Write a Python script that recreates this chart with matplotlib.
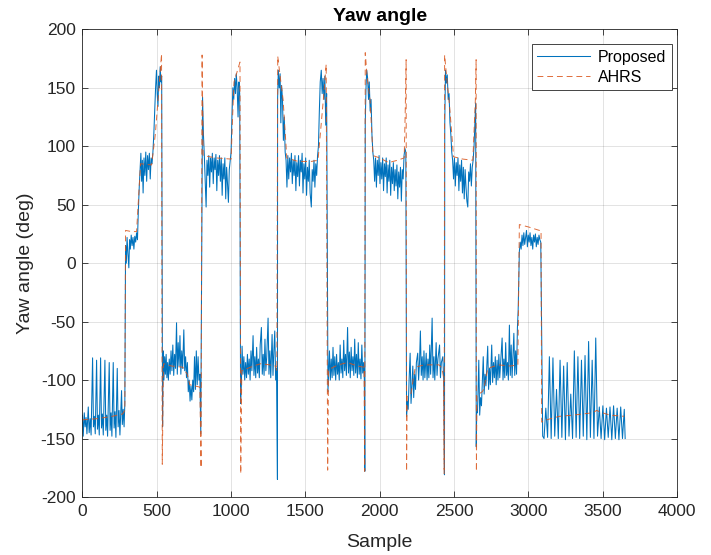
#!/usr/bin/env python3
"""Yaw angle comparison: proposed estimator vs AHRS output."""

import matplotlib
matplotlib.use("Agg")
import matplotlib.pyplot as plt

# (sample, yaw deg)
proposed = [
    # -130 plateau with spikes
    (0, -130), (5, -148), (12, -128), (18, -140), (24, -132), (30, -146), (39, -123), (45, -145),
    (52, -133), (58, -147), (68, -81), (74, -140), (80, -131), (86, -146), (95, -83), (101, -142),
    (107, -130), (113, -147), (122, -81), (128, -141), (134, -129), (140, -147), (151, -83), (157, -143),
    (163, -130), (169, -148), (180, -85), (186, -143), (192, -128), (198, -148), (207, -85), (213, -141),
    (219, -127), (225, -149), (234, -90), (240, -140), (246, -126), (252, -147), (263, -109), (268, -138),
    (274, -125), (280, -140), (285, -120),
    # 20 / 85 / 160 climb
    (290, 15), (295, 0), (300, 22), (306, 8), (312, -4), (317, 20), (322, 12), (328, 24), (334, 15),
    (340, 22), (346, 12), (352, 23), (358, 18), (364, 26), (370, 20), (376, 45), (382, 65), (388, 80),
    (393, 94), (398, 70), (403, 88), (408, 60), (414, 90), (420, 75), (426, 95), (432, 70), (438, 92),
    (444, 80), (450, 94), (456, 72), (462, 90), (468, 85), (474, 95), (480, 110), (486, 130), (492, 150),
    (498, 165), (503, 145), (508, 134), (513, 160), (518, 150), (523, 168), (528, 155), (533, 160),
    # -90
    (539, -140), (543, -75), (548, -100), (553, -80), (558, -95), (563, -78), (568, -98), (573, -85),
    (578, -100), (584, -82), (590, -95), (596, -75), (602, -92), (608, -70), (614, -96), (620, -78),
    (626, -90), (633, -51), (638, -95), (644, -68), (650, -88), (656, -62), (662, -95), (668, -75),
    (674, -90), (682, -57), (688, -92), (694, -80), (700, -98), (706, -85), (712, -110), (718, -100),
    (724, -118), (730, -105), (736, -117), (742, -100), (748, -110), (754, -80), (760, -108), (766, -75),
    (772, -104), (778, -80), (784, -100), (790, -95), (796, -146),
    # +85
    (808, 142), (814, 110), (820, 92), (826, 70), (832, 48), (838, 88), (844, 75), (850, 92), (856, 65),
    (862, 90), (868, 78), (874, 94), (880, 68), (886, 90), (892, 80), (898, 93), (904, 62), (910, 88),
    (916, 75), (922, 92), (928, 70), (934, 90), (940, 58), (946, 85), (952, 72), (958, 90), (964, 55),
    (970, 82), (976, 68), (982, 52), (988, 80), (994, 88), (1000, 95), (1006, 125), (1012, 150),
    (1018, 140), (1024, 158), (1030, 145), (1035, 162), (1041, 150), (1047, 125), (1053, 155), (1058, 145),
    # -90
    (1064, -120), (1070, -100), (1074, -71), (1080, -95), (1086, -80), (1092, -100), (1098, -85),
    (1104, -98), (1110, -78), (1116, -95), (1122, -82), (1128, -100), (1134, -75), (1140, -92),
    (1148, -62), (1154, -96), (1160, -80), (1166, -98), (1172, -72), (1178, -94), (1184, -82),
    (1190, -98), (1196, -70), (1204, -55), (1210, -95), (1216, -78), (1222, -96), (1228, -65),
    (1234, -92), (1240, -80), (1249, -47), (1255, -95), (1261, -75), (1267, -98), (1276, -61),
    (1282, -96), (1288, -75), (1294, -58), (1300, -100), (1306, -90), (1312, -185),
    # +85
    (1313, 140), (1318, 165), (1324, 150), (1330, 162), (1335, 120), (1340, 152), (1346, 140),
    (1352, 105), (1358, 125), (1364, 95), (1370, 88), (1376, 65), (1382, 92), (1388, 72), (1394, 90),
    (1400, 78), (1406, 94), (1412, 68), (1418, 88), (1424, 75), (1430, 92), (1436, 62), (1442, 86),
    (1448, 74), (1454, 92), (1460, 66), (1466, 88), (1472, 78), (1478, 94), (1484, 60), (1490, 85),
    (1496, 72), (1502, 90), (1508, 58), (1514, 82), (1520, 70), (1526, 88), (1532, 60), (1540, 48),
    (1546, 80), (1552, 70), (1558, 88), (1564, 65), (1570, 85), (1576, 75), (1582, 92), (1588, 100),
    (1594, 130), (1600, 155), (1607, 165), (1613, 145), (1619, 158), (1625, 140), (1631, 160),
    (1637, 118), (1643, 145),
    # -90
    (1652, -110), (1656, -95), (1662, -75), (1668, -100), (1674, -82), (1680, -98), (1686, -72),
    (1692, -96), (1698, -80), (1704, -100), (1710, -78), (1716, -95), (1722, -85), (1728, -100),
    (1734, -70), (1740, -94), (1746, -82), (1752, -98), (1758, -66), (1764, -92), (1770, -78),
    (1776, -96), (1784, -55), (1790, -94), (1796, -76), (1802, -98), (1808, -72), (1814, -92),
    (1820, -80), (1826, -96), (1832, -65), (1838, -94), (1844, -78), (1850, -98), (1856, -68),
    (1862, -95), (1868, -82), (1874, -99), (1880, -70), (1886, -94), (1892, -85), (1897, -100),
    (1900, -178),
    # +85
    (1903, 120), (1908, 150), (1913, 165), (1919, 158), (1925, 140), (1930, 155), (1936, 130),
    (1942, 140), (1948, 110), (1954, 95), (1960, 88), (1966, 70), (1972, 90), (1978, 65), (1984, 88),
    (1990, 75), (1996, 92), (2002, 68), (2008, 86), (2014, 72), (2020, 90), (2026, 62), (2032, 85),
    (2038, 74), (2044, 90), (2050, 60), (2056, 84), (2062, 70), (2068, 88), (2074, 58), (2080, 82),
    (2086, 68), (2092, 86), (2098, 62), (2104, 80), (2110, 66), (2116, 84), (2122, 55), (2128, 78),
    (2134, 65), (2140, 82), (2146, 53), (2152, 80), (2158, 72), (2164, 92), (2170, 98), (2176, 95),
    # -90
    (2181, -131), (2186, -118), (2192, -125), (2198, -100), (2205, -77), (2211, -120), (2217, -105),
    (2223, -88), (2229, -115), (2235, -95), (2241, -108), (2247, -85), (2256, -77), (2262, -100),
    (2268, -85), (2274, -58), (2280, -96), (2286, -80), (2292, -100), (2298, -75), (2304, -98),
    (2313, -77), (2319, -100), (2325, -82), (2331, -98), (2337, -70), (2343, -95), (2353, -47),
    (2359, -98), (2365, -80), (2371, -100), (2380, -68), (2386, -96), (2392, -82), (2403, -70),
    (2409, -98), (2415, -85), (2425, -80), (2431, -100), (2436, -181),
    # +85
    (2438, 120), (2443, 165), (2449, 154), (2455, 161), (2461, 140), (2467, 145), (2473, 120),
    (2479, 110), (2485, 95), (2491, 88), (2497, 72), (2503, 90), (2509, 66), (2515, 86), (2521, 75),
    (2527, 90), (2533, 62), (2539, 84), (2545, 70), (2551, 88), (2557, 60), (2563, 82), (2569, 55),
    (2575, 80), (2581, 65), (2587, 53), (2593, 48), (2599, 78), (2605, 70), (2611, 85), (2617, 66),
    (2623, 82), (2629, 88), (2635, 100), (2641, 120), (2646, 137), (2650, -157),
    # -90 with spikes
    (2653, -125), (2658, -128), (2662, -110), (2667, -83), (2673, -130), (2679, -115), (2685, -122),
    (2691, -100), (2697, -80), (2703, -112), (2709, -95), (2715, -105), (2721, -88), (2727, -71),
    (2733, -108), (2739, -90), (2745, -104), (2754, -70), (2760, -102), (2766, -85), (2772, -98),
    (2778, -80), (2784, -104), (2790, -83), (2796, -100), (2802, -78), (2808, -98), (2814, -85),
    (2824, -64), (2830, -100), (2836, -82), (2842, -98), (2848, -68), (2854, -96), (2860, -85),
    (2866, -100), (2873, -53), (2879, -96), (2885, -70), (2891, -98), (2897, -80), (2903, -60),
    (2909, -96), (2915, -75), (2921, -95), (2927, -55), (2932, -40),
    # +20
    (2940, 10), (2946, 18), (2952, 12), (2958, 24), (2964, 15), (2970, 26), (2976, 16), (2982, 22),
    (2988, 28), (2994, 14), (3000, 24), (3006, 18), (3012, 26), (3018, 15), (3024, 22), (3030, 12),
    (3036, 24), (3042, 18), (3048, 25), (3054, 14), (3060, 22), (3066, 16), (3072, 24), (3078, 20),
    (3084, 18),
    # -140 with spikes
    (3097, -148), (3106, -150), (3118, -124), (3130, -149), (3142, -80), (3154, -150), (3166, -81),
    (3178, -148), (3190, -108), (3202, -150), (3214, -83), (3226, -149), (3238, -88), (3250, -151),
    (3262, -85), (3274, -148), (3286, -112), (3298, -150), (3310, -75), (3322, -149), (3334, -80),
    (3346, -150), (3358, -83), (3370, -148), (3382, -79), (3394, -151), (3406, -67), (3418, -149),
    (3430, -83), (3442, -150), (3454, -64), (3466, -148), (3478, -123), (3490, -150), (3502, -122),
    (3514, -151), (3526, -124), (3538, -149), (3550, -123), (3562, -151), (3574, -122), (3586, -150),
    (3598, -124), (3610, -151), (3622, -123), (3634, -150), (3646, -125), (3652, -150),
]

ahrs = [
    (0, -134), (100, -133), (200, -131), (270, -129), (285, -126), (290, 28), (330, 27), (364, 27),
    (391, 85), (465, 84), (490, 110), (515, 150), (532, 179), (537, -172), (545, -86), (600, -88),
    (675, -89), (705, -95), (722, -104), (790, -106), (798, -175), (805, 178), (812, 92), (900, 90),
    (1000, 89), (1010, 125), (1020, 155), (1060, 172), (1065, -180), (1072, -92), (1150, -88),
    (1200, -86), (1260, -87), (1300, -88), (1308, -92), (1314, 177), (1330, 160), (1350, 140),
    (1365, 110), (1375, 90), (1450, 87), (1540, 87), (1585, 88), (1621, 140), (1640, 170),
    (1650, -177), (1656, -91), (1720, -87), (1784, -85), (1850, -88), (1895, -89), (1899, -178),
    (1903, 180), (1915, 160), (1935, 140), (1955, 92), (2000, 90), (2060, 86), (2120, 88), (2165, 90),
    (2172, 130), (2178, 174), (2181, -178), (2185, -114), (2210, -112), (2225, -100), (2240, -89),
    (2300, -87), (2400, -87), (2420, -90), (2430, -98), (2434, -180), (2437, 178), (2450, 160),
    (2470, 135), (2497, 91), (2560, 89), (2627, 88), (2644, 140), (2649, 174), (2651, -178),
    (2654, -113), (2690, -110), (2700, -108), (2727, -90), (2800, -87), (2880, -88), (2930, -87),
    (2940, 33), (3000, 31), (3075, 28), (3086, 28), (3090, -136), (3101, -135), (3150, -133),
    (3209, -131), (3300, -130), (3431, -128), (3460, -126), (3500, -128), (3550, -130), (3646, -131),
]

x_ticks = [0, 500, 1000, 1500, 2000, 2500, 3000, 3500, 4000]
y_ticks = [-200, -150, -100, -50, 0, 50, 100, 150, 200]

BLUE = "#0072BD"
ORANGE = "#D95319"
DARK = "#262626"


def main():
    plt.rcParams["font.family"] = ["Liberation Sans", "DejaVu Sans"]
    plt.rcParams["axes.unicode_minus"] = False

    fig = plt.figure(figsize=(7.11, 5.55), dpi=100)
    ax = fig.add_axes([0.116, 0.1045, 0.836, 0.8427])

    px, py = zip(*proposed)
    hx, hy = zip(*ahrs)
    ax.plot(px, py, color=BLUE, lw=0.75, label="Proposed")
    ax.plot(hx, hy, color=ORANGE, lw=0.7, alpha=0.85, ls=(0, (6, 4)), label="AHRS")

    ax.set_xlim(0, 4000)
    ax.set_ylim(-200, 200)
    ax.set_xticks(x_ticks)
    ax.set_yticks(y_ticks)
    ax.tick_params(direction="in", length=4, width=0.6, top=True, right=True,
                   labelsize=12.5, colors=DARK, pad=5)
    ax.grid(True, color="#000000", alpha=0.13, lw=0.6)
    for sp in ax.spines.values():
        sp.set_color(DARK)
        sp.set_linewidth(0.6)

    ax.set_title("Yaw angle", fontsize=14, fontweight="bold", pad=6)
    ax.set_xlabel("Sample", fontsize=14, color=DARK, labelpad=11)
    ax.set_ylabel("Yaw angle (deg)", fontsize=14, color=DARK, labelpad=5)

    leg = ax.legend(loc="upper right", bbox_to_anchor=(0.992, 0.968), borderaxespad=0,
                    fontsize=11.5, handlelength=3.3, fancybox=False, framealpha=1,
                    edgecolor=DARK, borderpad=0.35, labelspacing=0.3, handletextpad=0.5)
    leg.get_frame().set_linewidth(0.6)

    fig.savefig("out.png", dpi=100)
    plt.close(fig)


if __name__ == "__main__":
    main()
